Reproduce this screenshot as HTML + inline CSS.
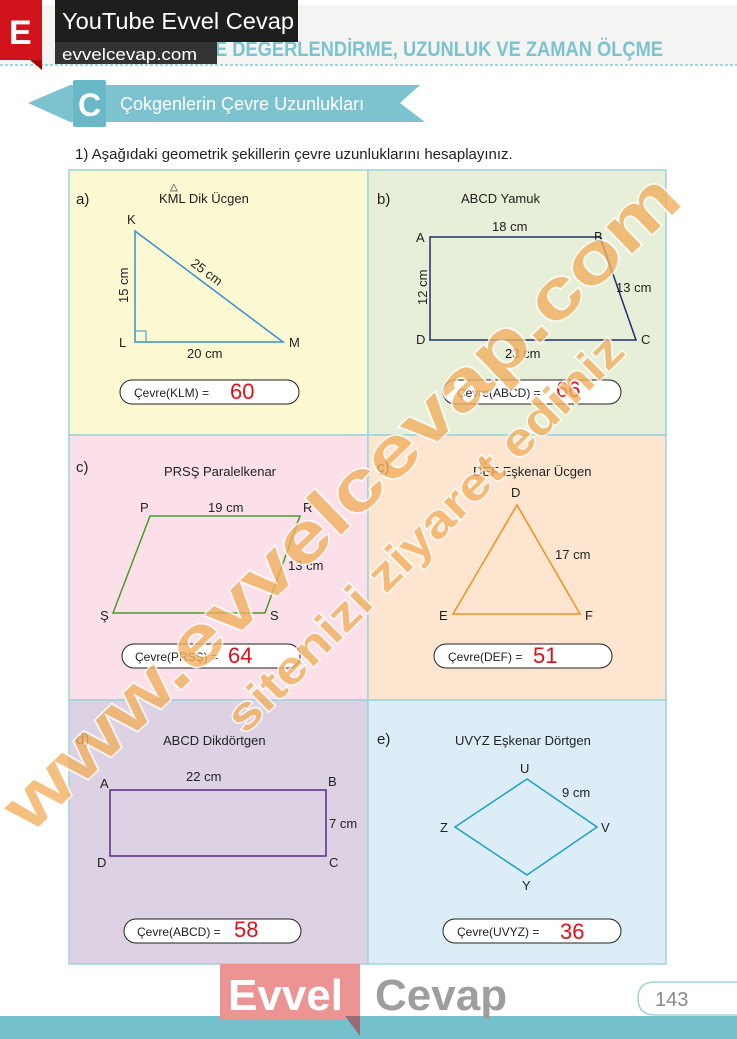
<!DOCTYPE html>
<html><head><meta charset="utf-8"><style>
body{margin:0;background:#fff;}
svg{display:block;font-family:"Liberation Sans",sans-serif;}
</style></head><body>
<svg width="737" height="1039" viewBox="0 0 737 1039" xmlns="http://www.w3.org/2000/svg">
<rect width="737" height="1039" fill="#fff"/>
<rect x="0" y="5" width="737" height="60" fill="#f4f4f2"/>
<line x1="0" y1="65" x2="737" y2="65" stroke="#8cc9d2" stroke-width="1.5" stroke-dasharray="3,2"/>
<text x="215" y="56" font-size="21" font-weight="bold" fill="#7cc3cf" textLength="448" lengthAdjust="spacingAndGlyphs">E DEGERLENDİRME, UZUNLUK VE ZAMAN ÖLÇME</text>
<rect x="0" y="0" width="42" height="60" fill="#d0121b"/>
<polygon points="30,60 42,60 42,70" fill="#a00"/>
<text x="9" y="44" font-size="34" font-weight="bold" fill="#fff">E</text>
<rect x="55" y="0" width="243" height="42" fill="#1e1e1e"/>
<text x="62" y="29" font-size="23" fill="#fff" textLength="232" lengthAdjust="spacingAndGlyphs">YouTube Evvel Cevap</text>
<rect x="55" y="42" width="162" height="22" fill="#333"/>
<text x="62" y="60" font-size="17" fill="#fff" textLength="135" lengthAdjust="spacingAndGlyphs">evvelcevap.com</text>
<polygon points="28,103 70,85 420,85 400,103 425,122 70,122" fill="#7cc3cf"/>
<rect x="73" y="80" width="33" height="47" fill="#68b8c7" rx="2"/>
<text x="78" y="116" font-size="32" font-weight="bold" fill="#fff">C</text>
<text x="120" y="110" font-size="18" fill="#fff">Çokgenlerin Çevre Uzunlukları</text>
<text x="75" y="159" font-size="15" fill="#222">1) Aşağıdaki geometrik şekillerin çevre uzunluklarını hesaplayınız.</text>
<g stroke="#9fd3da" stroke-width="1.5">
<rect x="69" y="170" width="299" height="265" fill="#fbf8d2"/>
<rect x="368" y="170" width="298" height="265" fill="#e7efd9"/>
<rect x="69" y="435" width="299" height="265" fill="#fbe0ea"/>
<rect x="368" y="435" width="298" height="265" fill="#fde5d0"/>
<rect x="69" y="700" width="299" height="264" fill="#dcd2e3"/>
<rect x="368" y="700" width="298" height="264" fill="#ddedf8"/>
</g>
<g font-size="13" fill="#222">
<text x="76" y="204" font-size="15">a)</text>
<text x="159" y="203">KML Dik Ücgen</text><text x="170" y="190" font-size="10">△</text>
<polygon points="135,231 135,342 283,342" fill="none" stroke="#3a8fd0" stroke-width="1.5"/>
<rect x="135" y="331" width="11" height="11" fill="none" stroke="#3a8fd0"/>
<text x="127" y="224">K</text><text x="119" y="347">L</text><text x="289" y="347">M</text>
<text x="187" y="358">20 cm</text>
<text x="128" y="303" transform="rotate(-90 128 303)">15 cm</text>
<text x="190" y="265" transform="rotate(37 190 265)">25 cm</text>
<rect x="120" y="380" width="179" height="24" rx="12" fill="#fff" stroke="#222"/>
<text x="134" y="397" font-size="12">Çevre(KLM) =</text>
<text x="230" y="399" font-size="22" fill="#e0101a">60</text>
<text x="377" y="204" font-size="15">b)</text>
<text x="461" y="203">ABCD Yamuk</text>
<polygon points="430,237 600,237 636,340 430,340" fill="none" stroke="#1f2f6e" stroke-width="1.5"/>
<text x="416" y="242">A</text><text x="594" y="241">B</text><text x="416" y="344">D</text><text x="641" y="344">C</text>
<text x="492" y="231">18 cm</text><text x="616" y="292">13 cm</text><text x="505" y="358">23 cm</text>
<text x="427" y="305" transform="rotate(-90 427 305)">12 cm</text>
<rect x="443" y="380" width="178" height="24" rx="12" fill="#fff" stroke="#222"/>
<text x="457" y="397" font-size="12">Çevre(ABCD) =</text>
<text x="556" y="397" font-size="22" fill="#e0101a">66</text>
<text x="76" y="472" font-size="15">c)</text>
<text x="164" y="476">PRSŞ Paralelkenar</text>
<polygon points="150,516 300,516 265,613 113,613" fill="none" stroke="#4a9a2a" stroke-width="1.5"/>
<text x="140" y="512">P</text><text x="303" y="512">R</text><text x="100" y="620">Ş</text><text x="270" y="620">S</text>
<text x="208" y="512">19 cm</text><text x="288" y="570">13 cm</text>
<rect x="122" y="644" width="178" height="24" rx="12" fill="#fff" stroke="#222"/>
<text x="135" y="661" font-size="12">Çevre(PRSŞ) =</text>
<text x="228" y="663" font-size="22" fill="#e0101a">64</text>
<text x="377" y="472" font-size="15">ç)</text>
<text x="473" y="476">DEF Eşkenar Ücgen</text><text x="479" y="463" font-size="10">△</text>
<polygon points="517,505 453,614 580,614" fill="none" stroke="#f09020" stroke-width="1.5"/>
<text x="511" y="497">D</text><text x="439" y="620">E</text><text x="585" y="620">F</text>
<text x="555" y="559">17 cm</text>
<rect x="434" y="644" width="178" height="24" rx="12" fill="#fff" stroke="#222"/>
<text x="448" y="661" font-size="12">Çevre(DEF) =</text>
<text x="533" y="663" font-size="22" fill="#e0101a">51</text>
<text x="76" y="744" font-size="15">d)</text>
<text x="163" y="745">ABCD Dikdörtgen</text>
<rect x="110" y="790" width="216" height="66" fill="none" stroke="#5a2a8a" stroke-width="1.5"/>
<text x="100" y="788">A</text><text x="328" y="786">B</text><text x="97" y="867">D</text><text x="329" y="867">C</text>
<text x="186" y="781">22 cm</text><text x="329" y="828">7 cm</text>
<rect x="124" y="919" width="177" height="24" rx="12" fill="#fff" stroke="#222"/>
<text x="137" y="936" font-size="12">Çevre(ABCD) =</text>
<text x="234" y="937" font-size="22" fill="#e0101a">58</text>
<text x="377" y="744" font-size="15">e)</text>
<text x="455" y="745">UVYZ Eşkenar Dörtgen</text>
<polygon points="527,779 597,827 527,875 455,827" fill="none" stroke="#1aa0c0" stroke-width="1.5"/>
<text x="520" y="773">U</text><text x="601" y="832">V</text><text x="522" y="890">Y</text><text x="440" y="832">Z</text>
<text x="562" y="797">9 cm</text>
<rect x="443" y="919" width="178" height="24" rx="12" fill="#fff" stroke="#222"/>
<text x="457" y="936" font-size="12">Çevre(UVYZ) =</text>
<text x="560" y="939" font-size="22" fill="#e0101a">36</text>
</g>
<g opacity="0.8" font-weight="bold">
<text x="30" y="835" font-size="70" fill="#f2b060" stroke="#fff" stroke-width="3" paint-order="stroke" textLength="910" lengthAdjust="spacingAndGlyphs" transform="rotate(-44 30 835)">www.evvelcevap.com</text>
<text x="245" y="735" font-size="46" fill="#f2b060" stroke="#fff" stroke-width="3" paint-order="stroke" textLength="540" lengthAdjust="spacingAndGlyphs" transform="rotate(-45 245 735)">sitenizi ziyaret ediniz</text>
</g>
<rect x="0" y="1016" width="737" height="23" fill="#74c0cc"/>
<rect x="220" y="964" width="140" height="55" fill="#ec9494"/>
<polygon points="345,1016 360,1016 360,1036" fill="#9a6b74"/>
<text x="228" y="1010" font-size="44" font-weight="bold" fill="#fff">Evvel</text>
<text x="375" y="1010" font-size="44" font-weight="bold" fill="#9e9e9e">Cevap</text>
<path d="M737,982 L655,982 Q638,982 638,998 Q638,1015 655,1015 L737,1015" fill="#fff" stroke="#9fd3da" stroke-width="1.5"/>
<text x="655" y="1006" font-size="20" fill="#888">143</text>
</svg>
</body></html>
